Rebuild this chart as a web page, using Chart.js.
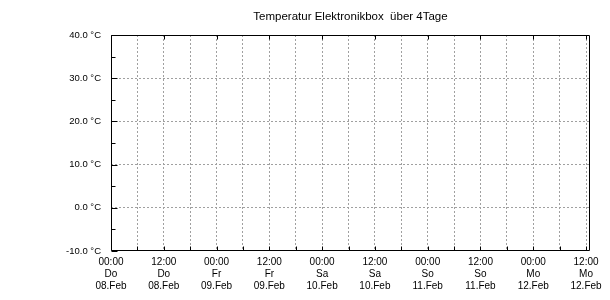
<!DOCTYPE html>
<html>
<head>
<meta charset="utf-8">
<script src="https://cdn.jsdelivr.net/npm/chart.js@4/dist/chart.umd.min.js"></script>
<style>
  html, body { margin: 0; padding: 0; background: #fff; }
  #wrap { width: 610px; height: 300px; }
</style>
</head>
<body>
<div id="wrap"><canvas id="grafico" width="610" height="300"></canvas></div>
<script>
// Stunden ab Do 08.Feb 00:00
const stundenHaupt = [0, 12, 24, 36, 48, 60, 72, 84, 96, 108];
const stundenNeben = [0, 6, 12, 18, 24, 30, 36, 42, 48, 54, 60, 66, 72, 78, 84, 90, 96, 102, 108];
const zeitLabels = ['00:00', '12:00', '00:00', '12:00', '00:00', '12:00', '00:00', '12:00', '00:00', '12:00'];
const tagLabels = ['Do', 'Do', 'Fr', 'Fr', 'Sa', 'Sa', 'So', 'So', 'Mo', 'Mo'];
const datumLabels = ['08.Feb', '08.Feb', '09.Feb', '09.Feb', '10.Feb', '10.Feb', '11.Feb', '11.Feb', '12.Feb', '12.Feb'];
const xMin = 0;
const xMax = 108.9;

// Temperatur-Achse
const tempTicks = [-10, -5, 0, 5, 10, 15, 20, 25, 30, 35, 40];
const tempLabels = ['-10.0 °C', '', '0.0 °C', '', '10.0 °C', '', '20.0 °C', '', '30.0 °C', '', '40.0 °C'];
const tempMin = -10;
const tempMax = 40;

// Messwerte (im Bild keine sichtbar)
const temperatur = [];

const gridFarbe = '#a0a0a0';

// Rahmen + nach innen zeigende Ticks
const rahmenPlugin = {
    id: 'rahmen',
    afterDraw(chart) {
        const { ctx, chartArea: a, scales } = chart;
        const l = Math.round(a.left) + 0.5, r = Math.round(a.right) - 0.5;
        const t = Math.round(a.top) + 0.5, b = Math.round(a.bottom) - 0.5;
        ctx.save();
        ctx.strokeStyle = '#000';
        ctx.lineWidth = 1;
        ctx.beginPath();
        stundenNeben.forEach(h => {
            const x = Math.round(scales.x.getPixelForValue(h)) + 0.5;
            ctx.moveTo(x, b); ctx.lineTo(x, b - 4);
            if (h % 12 === 0) { ctx.moveTo(x, t); ctx.lineTo(x, t + 4); }
        });
        tempTicks.forEach(v => {
            const y = Math.round(scales.y.getPixelForValue(v)) + 0.5;
            ctx.moveTo(l, y); ctx.lineTo(l + (v % 10 === 0 ? 6 : 4), y);
        });
        ctx.stroke();
        ctx.beginPath();
        ctx.rect(l, t, r - l, b - t);
        ctx.stroke();
        ctx.restore();
    }
};

const ctx = document.getElementById('grafico').getContext('2d');
new Chart(ctx, {
    type: 'line',
    data: {
        datasets: [{
            label: 'Temperatur',
            data: temperatur,
            borderColor: '#ff0000',
            borderWidth: 1,
            pointRadius: 0
        }]
    },
    options: {
        responsive: false,
        animation: false,
        layout: { padding: { left: 0, right: 20, top: 0, bottom: 0 } },
        plugins: {
            legend: { display: false },
            tooltip: { enabled: false },
            title: {
                display: true,
                text: 'Temperatur Elektronikbox  über 4Tage',
                color: '#000',
                fullSize: false,
                font: { family: 'Liberation Sans', size: 11.5, weight: 'normal', lineHeight: 1.2 },
                padding: { top: 10, bottom: 11.2 }
            }
        },
        scales: {
            x: {
                type: 'linear',
                min: xMin,
                max: xMax,
                afterBuildTicks: s => { s.ticks = stundenNeben.map(v => ({ value: v })); },
                afterFit: s => { s.height = 49; },
                grid: {
                    drawTicks: false,
                    color: c => (c.tick && c.tick.value > xMin) ? gridFarbe : 'rgba(0,0,0,0)'
                },
                border: { display: false, dash: [2, 2] },
                ticks: {
                    autoSkip: false,
                    maxRotation: 0,
                    padding: 5,
                    color: '#000',
                    font: { family: 'Liberation Sans', size: 10, lineHeight: 1.2 },
                    callback: v => {
                        const i = stundenHaupt.indexOf(v);
                        return i < 0 ? '' : [zeitLabels[i], tagLabels[i], datumLabels[i]];
                    }
                }
            },
            y: {
                min: tempMin,
                max: tempMax,
                afterBuildTicks: s => { s.ticks = tempTicks.map(v => ({ value: v })); },
                afterFit: s => { s.width = 111; },
                grid: {
                    drawTicks: false,
                    color: c => (c.tick && c.tick.value % 10 === 0 && c.tick.value > tempMin && c.tick.value < tempMax) ? gridFarbe : 'rgba(0,0,0,0)'
                },
                border: { display: false, dash: [2, 2] },
                ticks: {
                    autoSkip: false,
                    padding: 10,
                    color: '#000',
                    font: { family: 'Liberation Sans', size: 9.5 },
                    callback: v => tempLabels[tempTicks.indexOf(v)]
                }
            }
        }
    },
    plugins: [rahmenPlugin]
});
</script>
</body>
</html>
